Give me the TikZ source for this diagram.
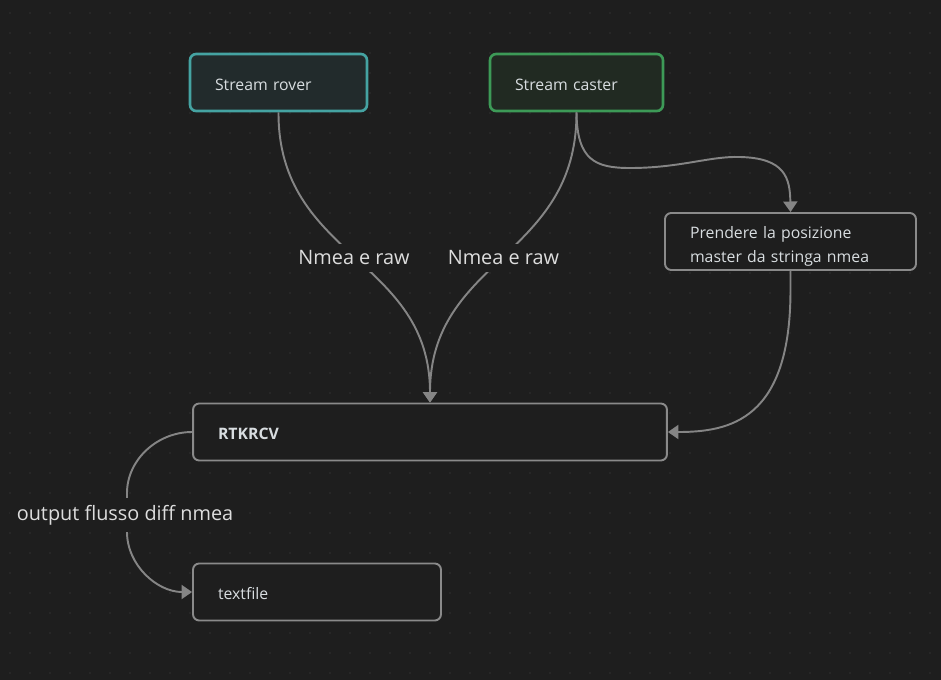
\documentclass[tikz,border=0pt]{standalone}
\usepackage{fontspec}
\setmainfont{Open Sans}
\usetikzlibrary{arrows.meta}
\definecolor{bg}{HTML}{1E1E1E}
\definecolor{dotc}{HTML}{2B2B2B}
\definecolor{connline}{HTML}{858585}
\definecolor{boxline}{HTML}{8A8A8A}
\definecolor{nodetext}{HTML}{D8DDE0}
\definecolor{lbltext}{HTML}{DDDDDD}
\definecolor{roverline}{HTML}{45A3A2}
\definecolor{roverfill}{HTML}{222B2C}
\definecolor{casterline}{HTML}{3D9A57}
\definecolor{casterfill}{HTML}{212A22}
\tikzset{
  box/.style={draw=boxline, line width=1.1pt, rounded corners=3.5pt, fill=bg,
    text=nodetext, font=\fontsize{9}{13.6}\selectfont, minimum height=1.14cm,
    inner xsep=0.5cm, text width=#1, align=left},
  oneline/.style={text height=8.8pt, text depth=0pt},
  conn/.style={draw=connline, line width=1.1pt, -{Triangle[length=6pt,width=8pt]}},
  lbl/.style={fill=bg, text=lbltext, font=\fontsize{11.3}{13}\selectfont, inner sep=4pt}
}
\begin{document}
\begin{tikzpicture}[x=0.02cm, y=-0.02cm]
% background with dot grid
\fill[bg] (0,0) rectangle (941,680);
\foreach \x in {10,30,...,930}
  \foreach \y in {13,33,...,673}
    \fill[dotc] (\x,\y) circle (0.7pt);
% boxes
\node[box=2.54cm, oneline, draw=roverline, fill=roverfill, line width=1.5pt] (rover) at (278.5,82.5) {Stream rover};
\node[box=2.46cm, oneline, draw=casterline, fill=casterfill, line width=1.5pt] (caster) at (576.5,82.5) {Stream caster};
\node[box=4.02cm, text height=12pt, inner ysep=1pt] (posiz) at (790.5,241.5) {Prendere la posizione\\master da stringa nmea};
\node[box=8.48cm, oneline, font=\fontsize{9}{13.6}\selectfont\bfseries] (rtk) at (430,432) {RTKRCV};
\node[box=3.96cm, oneline] (txt) at (317,592) {textfile};
% connectors
\draw[conn] (rover.south) .. controls (278,258) and (430,258) .. (rtk.north)
  node[pos=0.5, lbl] {Nmea e raw};
\draw[conn] (caster.south) .. controls (577,258) and (430,258) .. (rtk.north)
  node[pos=0.5, lbl] {Nmea e raw};
\draw[conn] (caster.south) .. controls (577,160) and (595,168) .. (630,168)
  .. controls (680,168) and (710,156) .. (740,157)
  .. controls (785,158) and (790,178) .. (posiz.north);
\draw[conn] (posiz.south) -- (790.5,290) .. controls (790.5,420) and (730,432) .. (rtk.east);
\draw[conn] (rtk.west) .. controls (157,432) and (127,460) .. (127,493) -- (127,532)
  .. controls (127,565) and (157,592) .. (txt.west);
\node[lbl] (outlbl) at (125,515) {output flusso diff nmea};
\end{tikzpicture}
\end{document}
